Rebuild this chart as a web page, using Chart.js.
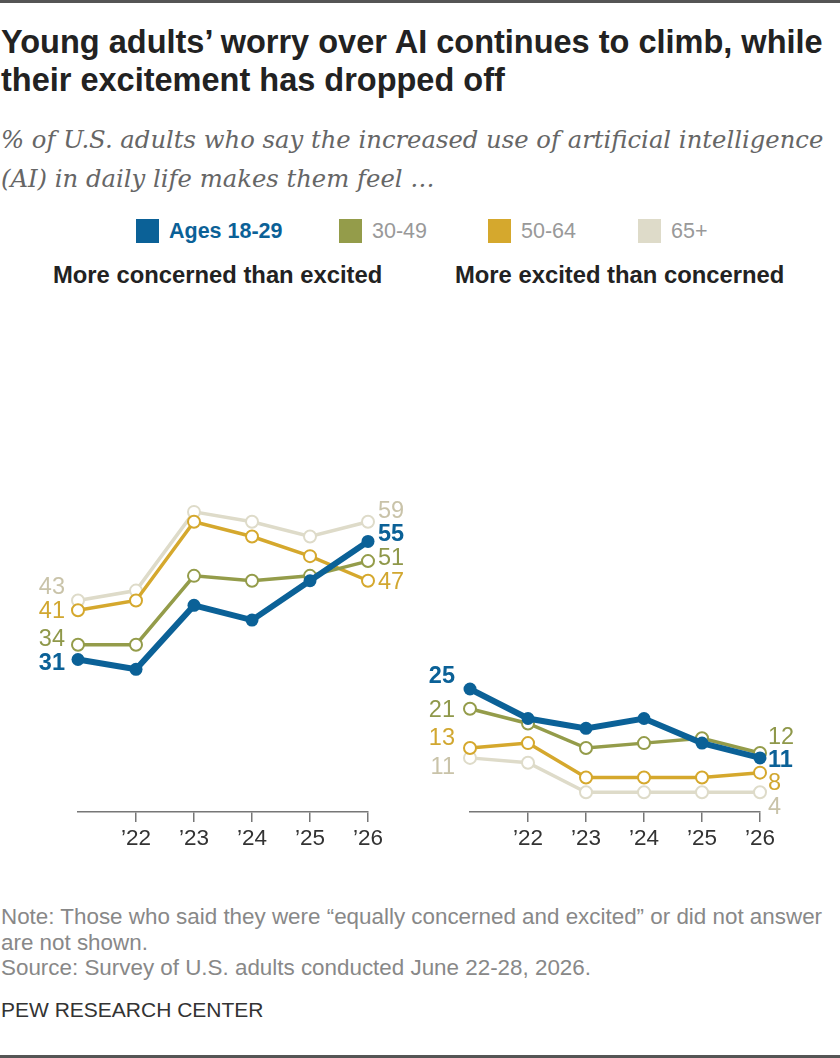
<!DOCTYPE html>
<html>
<head>
<meta charset="utf-8">
<script src="https://cdn.jsdelivr.net/npm/chart.js@4.4.1/dist/chart.umd.min.js"></script>
<style>
  html, body { margin: 0; padding: 0; background: #fff; }
  body { width: 840px; height: 1058px; position: relative; overflow: hidden; font-family: "Liberation Sans", Arial, sans-serif; }
  .bar { position: absolute; left: 0; width: 840px; height: 3px; background: #555; }
  .title { position: absolute; left: 1px; top: 23px; font-size: 32.5px; font-weight: bold; line-height: 38px; color: #222; white-space: nowrap; }
  .sub { position: absolute; left: 1px; top: 120px; font-family: "DejaVu Serif", serif; font-style: italic; font-size: 24.3px; line-height: 39px; color: #666; white-space: nowrap; }
  .legend { position: absolute; top: 219px; left: 0; height: 24px; }
  .legend span { position: absolute; top: 0; white-space: nowrap; }
  .legend .sw { width: 23px; height: 24px; }
  .legend .lt { font-size: 21.5px; line-height: 24px; color: #999; }
  .ptitle { position: absolute; top: 262px; font-size: 23.8px; font-weight: bold; color: #222; line-height: 26px; white-space: nowrap; }
  .panel { position: absolute; top: 300px; width: 420px; height: 560px; }
  .note { position: absolute; left: 1px; top: 904px; font-size: 22.4px; line-height: 25.5px; color: #888; white-space: nowrap; }
  .pew { position: absolute; left: 1px; top: 998px; font-size: 21px; line-height: 24px; color: #333; }
</style>
</head>
<body>
<div class="bar" style="top:0"></div>
<div class="title">Young adults’ worry over AI continues to climb, while<br>their excitement has dropped off</div>
<div class="sub">% of U.S. adults who say the increased use of artificial intelligence<br>(AI) in daily life makes them feel …</div>
<div class="legend" id="legend"></div>
<div class="ptitle" style="left:53px">More concerned than excited</div>
<div class="ptitle" style="left:455px">More excited than concerned</div>
<div class="panel" style="left:0"><canvas id="left"></canvas></div>
<div class="panel" style="left:420px"><canvas id="right"></canvas></div>
<div class="note">Note: Those who said they were “equally concerned and excited” or did not answer<br>are not shown.<br>Source: Survey of U.S. adults conducted June 22-28, 2026.</div>
<div class="pew">PEW RESEARCH CENTER</div>
<div class="bar" style="top:1055px"></div>
<script>
// survey years and axis labels
const years = ['2021', '2022', '2023', '2024', '2025', '2026'];
const tickLabels = ['', '’22', '’23', '’24', '’25', '’26'];
const groups = ['Ages 18-29', '30-49', '50-64', '65+'];

// % more concerned than excited
const concerned1829 = [31, 29, 42, 39, 47, 55];
const concerned3049 = [34, 34, 48, 47, 48, 51];
const concerned5064 = [41, 43, 59, 56, 52, 47];
const concerned65 = [43, 45, 61, 59, 56, 59];

// % more excited than concerned
const excited1829 = [25, 19, 17, 19, 14, 11];
const excited3049 = [21, 18, 13, 14, 15, 12];
const excited5064 = [13, 14, 7, 7, 7, 8];
const excited65 = [11, 10, 4, 4, 4, 4];

const colors = ['#0b6197', '#949c4a', '#d5a82d', '#dedbc9'];
const labelColors = ['#0b6197', '#8f984a', '#d1a730', '#c9c3a9'];
const legendX = [136, 339, 488, 638];

var legend = document.getElementById('legend');
groups.forEach(function (g, i) {
    var sw = document.createElement('span');
    sw.className = 'sw';
    sw.style.left = legendX[i] + 'px';
    sw.style.background = colors[i];
    var t = document.createElement('span');
    t.className = 'lt';
    t.style.left = (legendX[i] + 33) + 'px';
    t.textContent = g;
    if (i === 0) { t.style.color = colors[0]; t.style.fontWeight = 'bold'; }
    legend.appendChild(sw);
    legend.appendChild(t);
});

// end labels: vertical nudges so labels don't collide
const endLabels = {
    id: 'endLabels',
    afterDatasetsDraw: function (chart, args, opts) {
        var ctx = chart.ctx;
        ctx.save();
        ctx.textBaseline = 'middle';
        chart.data.datasets.forEach(function (ds, i) {
            var pts = chart.getDatasetMeta(i).data;
            var first = pts[0], last = pts[pts.length - 1];
            ctx.font = (i === 0 ? 'bold ' : '') + '23.5px "Liberation Sans", Arial, sans-serif';
            ctx.fillStyle = labelColors[i];
            ctx.textAlign = 'right';
            ctx.fillText(ds.data[0], first.x - opts.gapL, first.y + opts.firstDy[i]);
            ctx.textAlign = 'left';
            ctx.fillText(ds.data[ds.data.length - 1], last.x + opts.gapR, last.y + opts.lastDy[i]);
        });
        ctx.restore();
    }
};

function make_chart(id, series, pad, labelOpts) {
    var ctx = document.getElementById(id).getContext('2d');
    return new Chart(ctx, {
        type: 'line',
        data: {
            labels: years,
            datasets: series.map(function (d, i) {
                var main = i === 0;
                return {
                    label: groups[i],
                    data: d,
                    borderColor: colors[i],
                    borderWidth: main ? 6 : 3.5,
                    pointRadius: main ? 6.5 : 6,
                    pointBackgroundColor: main ? colors[i] : '#fff',
                    pointBorderColor: colors[i],
                    pointBorderWidth: main ? 0 : 2,
                    tension: 0,
                    clip: false
                };
            })
        },
        options: {
            responsive: true,
            maintainAspectRatio: false,
            animation: false,
            events: [],
            layout: { padding: pad },
            plugins: { legend: { display: false }, tooltip: { enabled: false }, endLabels: labelOpts },
            scales: {
                y: { display: false, min: 0, max: 100 },
                x: {
                    offset: false,
                    afterFit: function (scale) { scale.height = 40; },
                    border: { display: true, color: '#777', width: 1.5 },
                    grid: {
                        drawOnChartArea: false,
                        drawTicks: true,
                        tickLength: 10,
                        lineWidth: 1.5,
                        color: function (c) { return c.index === 0 ? 'rgba(0,0,0,0)' : '#777'; }
                    },
                    ticks: {
                        padding: 3,
                        maxRotation: 0,
                        autoSkip: false,
                        color: '#333',
                        font: { family: '"Liberation Sans", Arial, sans-serif', size: 22.5 },
                        callback: function (v, i) { return tickLabels[i]; }
                    }
                }
            }
        },
        plugins: [endLabels]
    });
}

make_chart('left', [concerned1829, concerned3049, concerned5064, concerned65],
    { left: 78, right: 52, top: 20, bottom: 8 },
    { gapL: 13, gapR: 10, firstDy: [4, -5, 1, -13], lastDy: [-7, -3, 2, -10] });

make_chart('right', [excited1829, excited3049, excited5064, excited65],
    { left: 50, right: 80, top: 20, bottom: 8 },
    { gapL: 15, gapR: 8, firstDy: [-12, 2, -10, 10], lastDy: [3, -15, 11, 15] });
</script>
</body>
</html>
